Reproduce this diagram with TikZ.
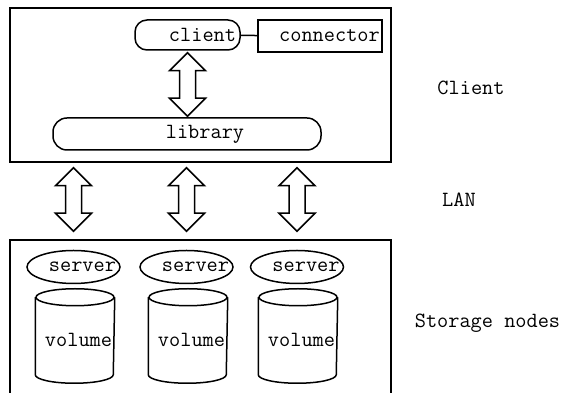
\documentclass[tikz,border=0pt]{standalone}
\usepackage{fontspec}
\usetikzlibrary{calc,positioning,shapes.geometric}

% hollow double-headed arrow between two points (same x)
\newcommand{\bigarrow}[2]{%
  \draw[fill=white] let \p1=(#1), \p2=(#2) in
    (\x1,\y1) -- (\x1+18pt,\y1-18pt) -- (\x1+8pt,\y1-18pt) -- (\x1+8pt,\y2+18pt)
    -- (\x1+18pt,\y2+18pt) -- (\x1,\y2) -- (\x1-18pt,\y2+18pt) -- (\x1-8pt,\y2+18pt)
    -- (\x1-8pt,\y1-18pt) -- (\x1-18pt,\y1-18pt) -- cycle;}

\begin{document}
\begin{tikzpicture}[x=1pt, y=1pt, line width=1.5pt, font=\ttfamily\fontsize{21.7pt}{24pt}\selectfont]
\useasboundingbox (0,0) rectangle (563,393);

% Draw the client machine and the storage side
\node[draw, minimum width=381pt, minimum height=154pt] (clibox) at (200.5,308) {};
\node[draw, minimum width=381pt, minimum height=160pt] (stobox) at (200.5,73) {};

% Client side: client, connector, library
\node[draw, rounded corners=12pt, minimum width=105pt, minimum height=30pt,
      label={[xshift=15pt]center:client}] (cl) at (187.5,358) {};
\node[draw, minimum width=124pt, minimum height=32pt,
      label={[xshift=9.5pt]center:connector}] (con) at (320,357) {};
\node[draw, rounded corners=14pt, minimum width=268pt, minimum height=32pt,
      label={[xshift=18pt]center:library}] (lib) at (187,259) {};

\draw (cl) -- (con);
\bigarrow{$(cl.south)+(0,-2)$}{$(lib.north)+(0,1)$}

% Draw servers and their volumes
\foreach \i/\x/\v in {1/73.5/75, 2/186.5/188, 3/297/298} {
    \node[draw, ellipse, minimum width=93pt, minimum height=33pt,
          label={[xshift=9pt]center:server}] (srv\i) at (\x,126) {};
    \node[minimum width=78pt, minimum height=76pt, inner sep=0pt,
          label={[xshift=3.5pt,yshift=-4pt]center:volume}] (vol\i) at (\v,57) {};
    \draw (vol\i.north west) -- (vol\i.south west) arc (180:360:39 and 8.5) -- (vol\i.north east);
    \draw (vol\i.north) ellipse (39 and 8.5);
}

% LAN links
\foreach \i in {1,2,3} {
    \bigarrow{$(srv\i |- clibox.south)+(0,-5)$}{$(srv\i |- stobox.north)+(0,8)$}
}

\node (lclient) at (471,305) {Client};
\node (llan) at (459,193) {LAN};
\node (lstore) at (487.5,70) {Storage nodes};

\end{tikzpicture}
\end{document}
